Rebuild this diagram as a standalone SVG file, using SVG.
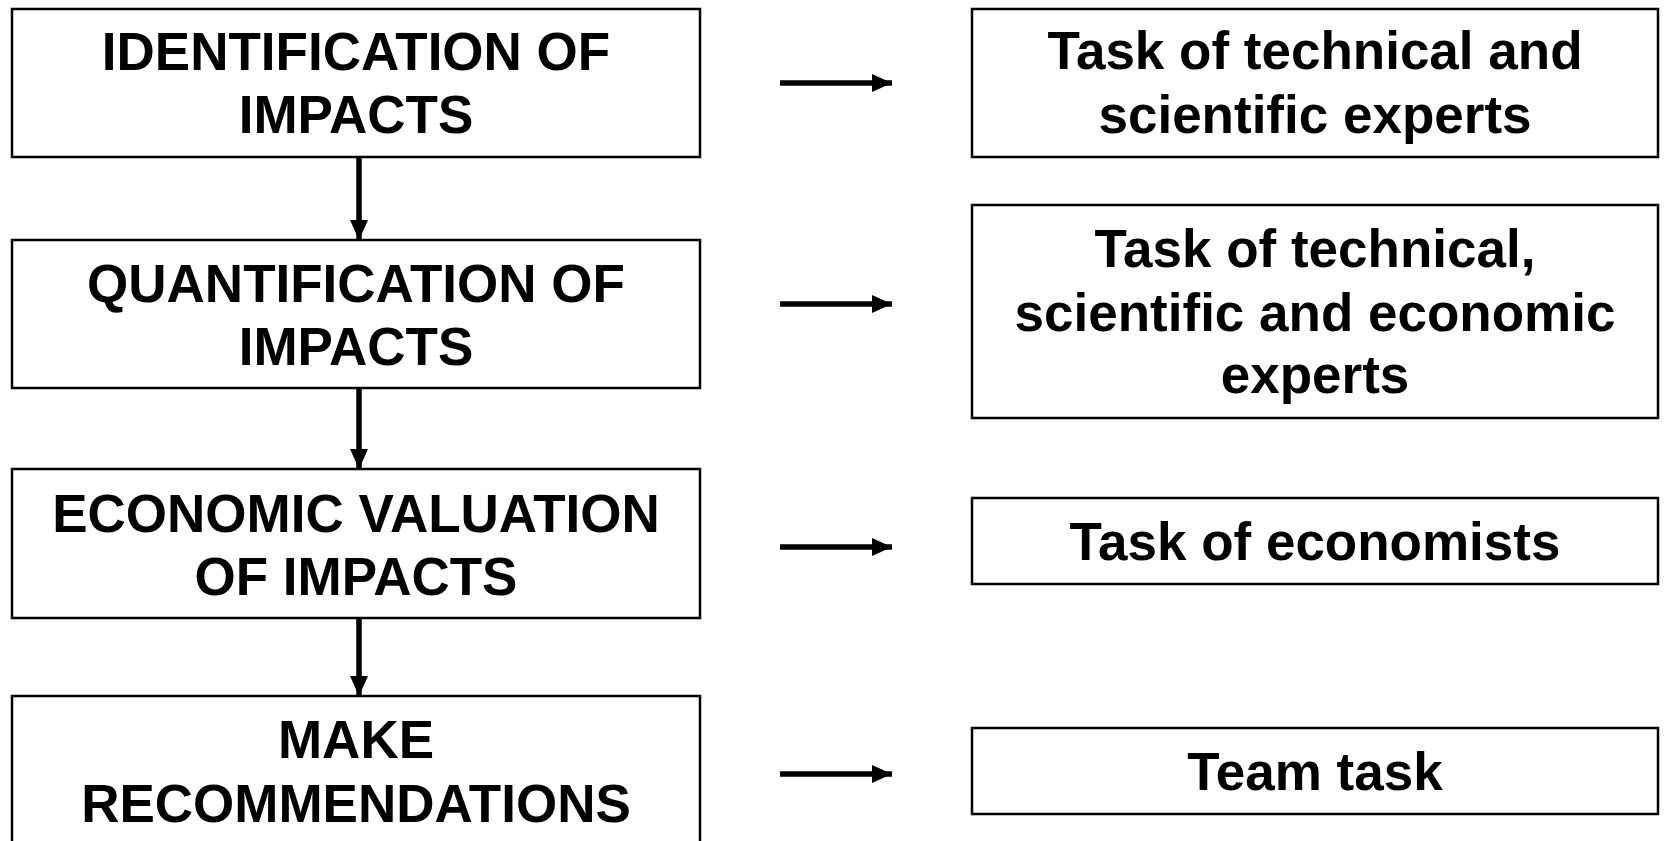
<svg xmlns="http://www.w3.org/2000/svg" width="1664" height="841" viewBox="0 0 1664 841">
<defs>
<style>
.box{fill:#fff;stroke:#000;stroke-width:2.5}
.t{font-family:"Liberation Sans",Arial,sans-serif;font-weight:bold;font-size:53px;fill:#000;text-anchor:middle}
.con{stroke:#000;stroke-width:5.5;fill:none}
</style>
<marker id="ah" markerUnits="userSpaceOnUse" markerWidth="20" markerHeight="20" viewBox="0 0 20 20" refX="20" refY="10" orient="auto">
<path d="M0,1 L20,10 L0,19 Z" fill="#000"/>
</marker>
</defs>
<rect width="1664" height="841" fill="#fff"/>
<g id="n1"><rect class="box" x="12" y="9" width="688" height="148"/><text class="t" x="356" y="70">IDENTIFICATION OF</text><text class="t" x="356" y="133">IMPACTS</text></g>
<g id="n2"><rect class="box" x="12" y="240" width="688" height="148"/><text class="t" x="356" y="302">QUANTIFICATION OF</text><text class="t" x="356" y="365">IMPACTS</text></g>
<g id="n3"><rect class="box" x="12" y="469" width="688" height="149"/><text class="t" x="356" y="532">ECONOMIC VALUATION</text><text class="t" x="356" y="595">OF IMPACTS</text></g>
<g id="n4"><rect class="box" x="12" y="696" width="688" height="160"/><text class="t" x="356" y="758">MAKE</text><text class="t" x="356" y="822">RECOMMENDATIONS</text></g>
<g id="r1"><rect class="box" x="972" y="9" width="686" height="148"/><text class="t" x="1315" y="69">Task of technical and</text><text class="t" x="1315" y="133">scientific experts</text></g>
<g id="r2"><rect class="box" x="972" y="205" width="686" height="213"/><text class="t" x="1315" y="267">Task of technical,</text><text class="t" x="1315" y="331">scientific and economic</text><text class="t" x="1315" y="393">experts</text></g>
<g id="r3"><rect class="box" x="972" y="498" width="686" height="86"/><text class="t" x="1315" y="560">Task of economists</text></g>
<g id="r4"><rect class="box" x="972" y="728" width="686" height="86"/><text class="t" x="1315" y="790">Team task</text></g>
<g id="connectors">
<line class="con" x1="359" y1="157" x2="359" y2="240" marker-end="url(#ah)"/>
<line class="con" x1="359" y1="388" x2="359" y2="469" marker-end="url(#ah)"/>
<line class="con" x1="359" y1="618" x2="359" y2="696" marker-end="url(#ah)"/>
<line class="con" x1="780" y1="83" x2="892" y2="83" marker-end="url(#ah)"/>
<line class="con" x1="780" y1="304" x2="892" y2="304" marker-end="url(#ah)"/>
<line class="con" x1="780" y1="547" x2="892" y2="547" marker-end="url(#ah)"/>
<line class="con" x1="780" y1="774" x2="892" y2="774" marker-end="url(#ah)"/>
</g>
</svg>
